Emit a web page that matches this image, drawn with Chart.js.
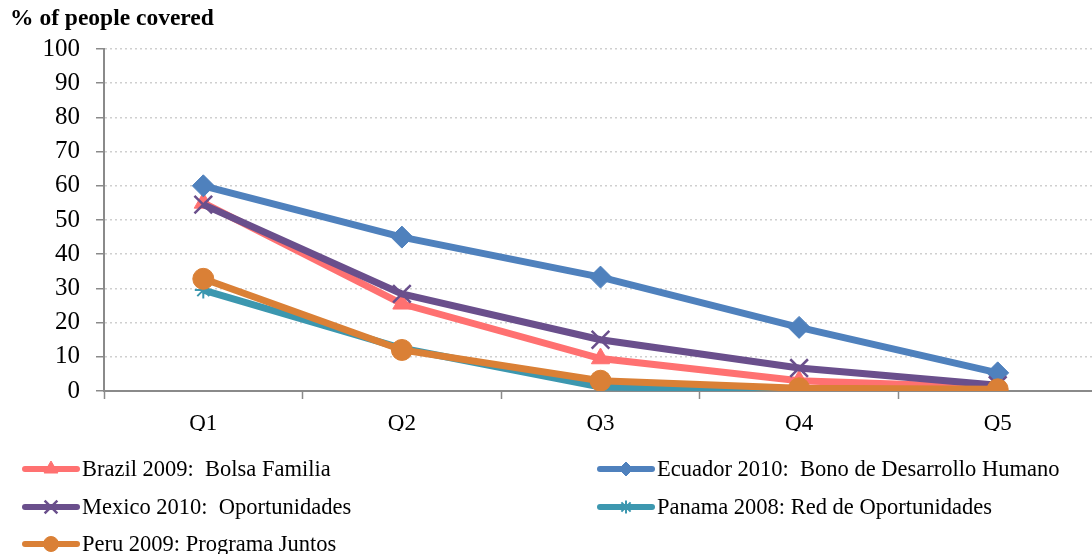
<!DOCTYPE html>
<html>
<head>
<meta charset="utf-8">
<script src="https://cdn.jsdelivr.net/npm/chart.js@4"></script>
<style>
  html, body { margin: 0; padding: 0; background: #ffffff; overflow: hidden; }
  #wrap { width: 1112px; height: 554px; }
</style>
</head>
<body>
<div id="wrap"><canvas id="c" width="1112" height="554"></canvas></div>
<script>
// Coverage of conditional cash transfer programmes by income quintile
const quintiles = ['Q1', 'Q2', 'Q3', 'Q4', 'Q5'];
const yTicks = [0, 10, 20, 30, 40, 50, 60, 70, 80, 90, 100];

const brazil  = [55.0, 25.5, 9.5, 3.0, 1.0];
const ecuador = [60.0, 45.0, 33.3, 18.6, 5.3];
const mexico  = [54.5, 28.4, 15.0, 6.7, 1.7];
const panama  = [29.5, 12.5, 1.2, 0.3, 0.1];
const peru    = [32.8, 12.0, 3.0, 0.8, 0.5];

const seriesNames = [
  'Brazil 2009:  Bolsa Familia',
  'Ecuador 2010:  Bono de Desarrollo Humano',
  'Mexico 2010:  Oportunidades',
  'Panama 2008: Red de Oportunidades',
  'Peru 2009: Programa Juntos'
];

const FONT = '"Liberation Serif", "Times New Roman", serif';

function series(label, data, color, pointStyle, radius, pointBorder, legendRadius, order) {
  return {
    label, data,
    borderColor: color,
    backgroundColor: color,
    pointBackgroundColor: color,
    pointBorderColor: color,
    borderWidth: 7,
    pointStyle,
    pointRadius: radius,
    pointHoverRadius: radius,
    pointBorderWidth: pointBorder,
    legendRadius,
    tension: 0,
    order
  };
}

const datasets = [
  series(seriesNames[0], brazil,  '#FF7171', 'triangle', 10.5, 1, 8, 5),
  series(seriesNames[1], ecuador, '#4F81BD', 'rectRot', 11, 1, 7, 4),
  series(seriesNames[2], mexico,  '#6A4F8C', 'crossRot', 12.5, 2.5, 9, 3),
  series(seriesNames[3], panama,  '#3C97AF', 'star', 8.5, 2, 6.5, 2),
  series(seriesNames[4], peru,    '#DA8036', 'circle', 10.5, 1, 7.5, 1)
];

// Title above the value axis and a two-column legend with line + marker samples
const decorations = {
  id: 'decorations',
  afterDraw(chart) {
    const ctx = chart.ctx;
    ctx.save();
    ctx.fillStyle = '#000';
    ctx.font = 'bold 23.5px ' + FONT;
    ctx.textBaseline = 'middle';
    ctx.textAlign = 'left';
    ctx.fillText('% of people covered', 10, 19);

    const cols = [25, 600];
    const rows = [469, 507, 544];
    ctx.font = '22.5px ' + FONT;
    chart.data.datasets.forEach((ds, i) => {
      const x = cols[i % 2];
      const y = rows[Math.floor(i / 2)];
      ctx.strokeStyle = ds.borderColor;
      ctx.lineWidth = 6;
      ctx.lineCap = 'round';
      ctx.beginPath();
      ctx.moveTo(x, y);
      ctx.lineTo(x + 52, y);
      ctx.stroke();
      ctx.lineCap = 'butt';
      ctx.fillStyle = ds.backgroundColor;
      ctx.strokeStyle = ds.borderColor;
      ctx.lineWidth = ds.pointBorderWidth;
      Chart.helpers.drawPoint(ctx, {
        pointStyle: ds.pointStyle,
        radius: ds.legendRadius,
        borderWidth: ds.pointBorderWidth,
        rotation: 0
      }, x + 26, y);
      ctx.fillStyle = '#000';
      ctx.fillText(ds.label, x + 57, y + 1);
    });
    ctx.restore();
  }
};

new Chart(document.getElementById('c'), {
  type: 'line',
  data: { labels: quintiles, datasets },
  options: {
    responsive: false,
    animation: false,
    layout: { padding: { top: 49, left: 0, right: 3, bottom: 123 } },
    plugins: {
      legend: { display: false },
      title: { display: false },
      tooltip: { enabled: false }
    },
    scales: {
      x: {
        offset: true,
        afterFit(s) { s.height = 40; },
        border: { display: true, color: '#8a8a8a', width: 2 },
        grid: {
          offset: true,
          drawOnChartArea: false,
          drawTicks: true,
          tickLength: 8,
          tickColor: '#8a8a8a',
          tickWidth: 1.5
        },
        ticks: { color: '#000', font: { family: FONT, size: 23 }, padding: 11 }
      },
      y: {
        min: 0,
        max: 100,
        afterFit(s) { s.width = 104; },
        afterBuildTicks(s) { s.ticks = yTicks.map(v => ({ value: v })); },
        border: { display: true, color: '#8a8a8a', width: 2, dash: [2, 3] },
        grid: {
          color: '#cfcfcf',
          lineWidth: 1.5,
          tickLength: 8,
          tickColor: '#8a8a8a',
          tickBorderDash: [],
          tickWidth: 1.5
        },
        ticks: { color: '#000', font: { family: FONT, size: 25 }, padding: 16 }
      }
    }
  },
  plugins: [decorations]
});
</script>
</body>
</html>
